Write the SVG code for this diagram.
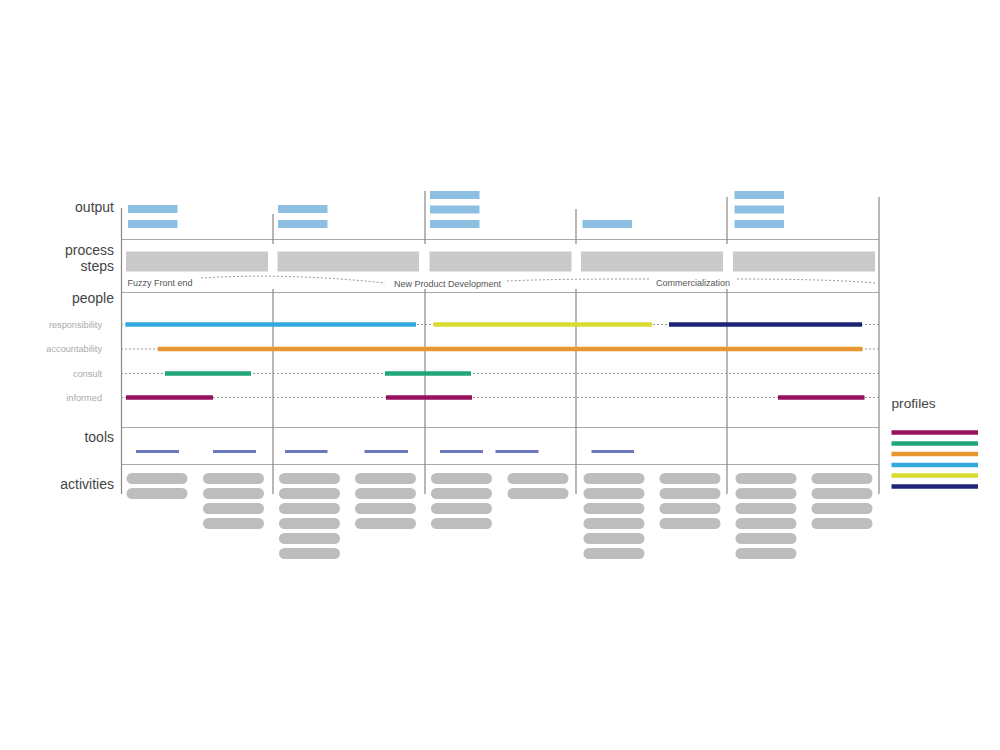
<svg xmlns="http://www.w3.org/2000/svg" width="1000" height="750" viewBox="0 0 1000 750">
<style>
.row{font-family:"Liberation Sans",Arial,sans-serif;font-size:14px;fill:#444;text-anchor:end}
.sub{font-family:"Liberation Sans",Arial,sans-serif;font-size:9.2px;fill:#aaa;text-anchor:end}
.ph{font-family:"Liberation Sans",Arial,sans-serif;font-size:9px;fill:#555}
.hl{stroke:#a8a8a8;stroke-width:1;fill:none}
.vl{stroke:#888;stroke-width:1.2;fill:none}
.dash{stroke:#9a9a9a;stroke-width:1;stroke-dasharray:2 2;fill:none}
.out{fill:#8cbfe2}
.step{fill:#c9c9c9}
.act{fill:#bdbdbd}
.tool{stroke:#6b78bd;stroke-width:3}
.bar{stroke-width:4.5;fill:none}
.mag{stroke:#98115f}.grn{stroke:#20a677}.org{stroke:#e8962f}.blu{stroke:#33a8dd}.yel{stroke:#d8dc2c}.nav{stroke:#1e2577}
</style>

<g id="grid">
<line class="hl" x1="121" y1="239.5" x2="879" y2="239.5"/>
<line class="hl" x1="121" y1="292.5" x2="879" y2="292.5"/>
<line class="hl" x1="121" y1="427.5" x2="879" y2="427.5"/>
<line class="hl" x1="121" y1="464.5" x2="879" y2="464.5"/>
<line class="vl" x1="121.5" y1="208" x2="121.5" y2="494"/>
<line class="vl" x1="273" y1="214" x2="273" y2="244"/>
<line class="vl" x1="273" y1="289" x2="273" y2="494"/>
<line class="vl" x1="425" y1="191" x2="425" y2="244"/>
<line class="vl" x1="425" y1="289" x2="425" y2="494"/>
<line class="vl" x1="576" y1="209" x2="576" y2="244"/>
<line class="vl" x1="576" y1="289" x2="576" y2="494"/>
<line class="vl" x1="727" y1="197" x2="727" y2="244"/>
<line class="vl" x1="727" y1="289" x2="727" y2="494"/>
<line class="vl" x1="879" y1="197" x2="879" y2="494"/>
</g>

<g id="row-labels">
<text class="row" x="114" y="211.5">output</text>
<text class="row" x="114" y="255">process</text>
<text class="row" x="114" y="271">steps</text>
<text class="row" x="114" y="302.5">people</text>
<text class="row" x="114" y="441.5">tools</text>
<text class="row" x="114" y="488.5">activities</text>
<text class="sub" x="102" y="327.5">responsibility</text>
<text class="sub" x="102" y="352">accountability</text>
<text class="sub" x="102" y="376.5">consult</text>
<text class="sub" x="102" y="400.5">informed</text>
</g>

<g id="output">
<rect class="out" x="128" y="205" width="49.5" height="8"/>
<rect class="out" x="128" y="220" width="49.5" height="8"/>
<rect class="out" x="278" y="205" width="49.5" height="8"/>
<rect class="out" x="278" y="220" width="49.5" height="8"/>
<rect class="out" x="430" y="191" width="49.5" height="8"/>
<rect class="out" x="430" y="205.5" width="49.5" height="8"/>
<rect class="out" x="430" y="220" width="49.5" height="8"/>
<rect class="out" x="582.5" y="220" width="49.5" height="8"/>
<rect class="out" x="734.5" y="191" width="49.5" height="8"/>
<rect class="out" x="734.5" y="205.5" width="49.5" height="8"/>
<rect class="out" x="734.5" y="220" width="49.5" height="8"/>
</g>

<g id="process-steps">
<rect class="step" x="126" y="251.5" width="142" height="20"/>
<rect class="step" x="277.5" y="251.5" width="141.5" height="20"/>
<rect class="step" x="429.5" y="251.5" width="142" height="20"/>
<rect class="step" x="581" y="251.5" width="142" height="20"/>
<rect class="step" x="733" y="251.5" width="142" height="20"/>
</g>

<g id="phases">
<text class="ph" x="127.5" y="285.5">Fuzzy Front end</text>
<text class="ph" x="447.5" y="286.5" text-anchor="middle">New Product Development</text>
<text class="ph" x="693" y="285.5" text-anchor="middle">Commercialization</text>
</g>

<g id="connectors">
<path class="dash" d="M201,278 C250,275 310,275 385,283"/>
<path class="dash" d="M507,281 C550,279 600,279 651,279"/>
<path class="dash" d="M737,279 C790,279 840,280 876,283"/>
<line class="dash" x1="121" y1="324.5" x2="879" y2="324.5"/>
<line class="dash" x1="121" y1="349" x2="879" y2="349"/>
<line class="dash" x1="121" y1="373.5" x2="879" y2="373.5"/>
<line class="dash" x1="121" y1="397.5" x2="879" y2="397.5"/>
</g>

<g id="people">
<line class="bar blu" x1="125.5" y1="324.5" x2="416" y2="324.5"/>
<line class="bar yel" x1="433.5" y1="324.5" x2="652" y2="324.5"/>
<line class="bar nav" x1="669" y1="324.5" x2="862" y2="324.5"/>
<line class="bar org" x1="158" y1="349" x2="862.5" y2="349"/>
<line class="bar grn" x1="165" y1="373.5" x2="251" y2="373.5"/>
<line class="bar grn" x1="385" y1="373.5" x2="471" y2="373.5"/>
<line class="bar mag" x1="126" y1="397.5" x2="213" y2="397.5"/>
<line class="bar mag" x1="386" y1="397.5" x2="472" y2="397.5"/>
<line class="bar mag" x1="778" y1="397.5" x2="864.5" y2="397.5"/>
</g>

<g id="tools">
<line class="tool" x1="136" y1="451.5" x2="179" y2="451.5"/>
<line class="tool" x1="213" y1="451.5" x2="256" y2="451.5"/>
<line class="tool" x1="285" y1="451.5" x2="327.5" y2="451.5"/>
<line class="tool" x1="364.5" y1="451.5" x2="408" y2="451.5"/>
<line class="tool" x1="440" y1="451.5" x2="483" y2="451.5"/>
<line class="tool" x1="495.5" y1="451.5" x2="538.5" y2="451.5"/>
<line class="tool" x1="591.5" y1="451.5" x2="634" y2="451.5"/>
</g>

<g id="activities">
<g id="act-1a">
<rect class="act" x="126.5" y="473" width="61" height="11" rx="5.5"/>
<rect class="act" x="126.5" y="488" width="61" height="11" rx="5.5"/>
</g>
<g id="act-1b">
<rect class="act" x="203" y="473" width="61" height="11" rx="5.5"/>
<rect class="act" x="203" y="488" width="61" height="11" rx="5.5"/>
<rect class="act" x="203" y="503" width="61" height="11" rx="5.5"/>
<rect class="act" x="203" y="518" width="61" height="11" rx="5.5"/>
</g>
<g id="act-2a">
<rect class="act" x="279" y="473" width="61" height="11" rx="5.5"/>
<rect class="act" x="279" y="488" width="61" height="11" rx="5.5"/>
<rect class="act" x="279" y="503" width="61" height="11" rx="5.5"/>
<rect class="act" x="279" y="518" width="61" height="11" rx="5.5"/>
<rect class="act" x="279" y="533" width="61" height="11" rx="5.5"/>
<rect class="act" x="279" y="548" width="61" height="11" rx="5.5"/>
</g>
<g id="act-2b">
<rect class="act" x="355" y="473" width="61" height="11" rx="5.5"/>
<rect class="act" x="355" y="488" width="61" height="11" rx="5.5"/>
<rect class="act" x="355" y="503" width="61" height="11" rx="5.5"/>
<rect class="act" x="355" y="518" width="61" height="11" rx="5.5"/>
</g>
<g id="act-3a">
<rect class="act" x="431" y="473" width="61" height="11" rx="5.5"/>
<rect class="act" x="431" y="488" width="61" height="11" rx="5.5"/>
<rect class="act" x="431" y="503" width="61" height="11" rx="5.5"/>
<rect class="act" x="431" y="518" width="61" height="11" rx="5.5"/>
</g>
<g id="act-3b">
<rect class="act" x="507.5" y="473" width="61" height="11" rx="5.5"/>
<rect class="act" x="507.5" y="488" width="61" height="11" rx="5.5"/>
</g>
<g id="act-4a">
<rect class="act" x="583.5" y="473" width="61" height="11" rx="5.5"/>
<rect class="act" x="583.5" y="488" width="61" height="11" rx="5.5"/>
<rect class="act" x="583.5" y="503" width="61" height="11" rx="5.5"/>
<rect class="act" x="583.5" y="518" width="61" height="11" rx="5.5"/>
<rect class="act" x="583.5" y="533" width="61" height="11" rx="5.5"/>
<rect class="act" x="583.5" y="548" width="61" height="11" rx="5.5"/>
</g>
<g id="act-4b">
<rect class="act" x="659.5" y="473" width="61" height="11" rx="5.5"/>
<rect class="act" x="659.5" y="488" width="61" height="11" rx="5.5"/>
<rect class="act" x="659.5" y="503" width="61" height="11" rx="5.5"/>
<rect class="act" x="659.5" y="518" width="61" height="11" rx="5.5"/>
</g>
<g id="act-5a">
<rect class="act" x="735.5" y="473" width="61" height="11" rx="5.5"/>
<rect class="act" x="735.5" y="488" width="61" height="11" rx="5.5"/>
<rect class="act" x="735.5" y="503" width="61" height="11" rx="5.5"/>
<rect class="act" x="735.5" y="518" width="61" height="11" rx="5.5"/>
<rect class="act" x="735.5" y="533" width="61" height="11" rx="5.5"/>
<rect class="act" x="735.5" y="548" width="61" height="11" rx="5.5"/>
</g>
<g id="act-5b">
<rect class="act" x="811.5" y="473" width="61" height="11" rx="5.5"/>
<rect class="act" x="811.5" y="488" width="61" height="11" rx="5.5"/>
<rect class="act" x="811.5" y="503" width="61" height="11" rx="5.5"/>
<rect class="act" x="811.5" y="518" width="61" height="11" rx="5.5"/>
</g>
</g>

<g id="profiles">
<text class="row" x="891.5" y="407.5" style="text-anchor:start;font-size:13.7px">profiles</text>
<line class="bar mag" x1="891.5" y1="432.5" x2="978" y2="432.5"/>
<line class="bar grn" x1="891.5" y1="443.5" x2="978" y2="443.5"/>
<line class="bar org" x1="891.5" y1="454" x2="978" y2="454"/>
<line class="bar blu" x1="891.5" y1="465" x2="978" y2="465"/>
<line class="bar yel" x1="891.5" y1="475.5" x2="978" y2="475.5"/>
<line class="bar nav" x1="891.5" y1="486.5" x2="978" y2="486.5"/>
</g>
</svg>
